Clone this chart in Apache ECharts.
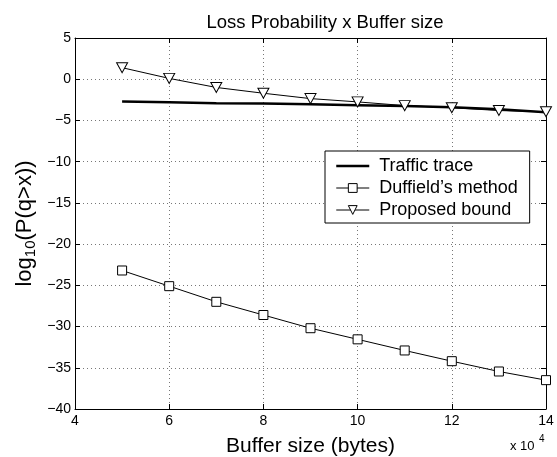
<!DOCTYPE html>
<html>
<head>
<meta charset="utf-8">
<script src="https://cdn.jsdelivr.net/npm/echarts@6/dist/echarts.min.js"></script>
<style>
  html, body { margin: 0; padding: 0; background: #fff; }
  #chart { width: 557px; height: 457px; }
</style>
</head>
<body>
<div id="chart"></div>
<script>
// Buffer size in units of 10^4 bytes
const bufferSize = [5, 6, 7, 8, 9, 10, 11, 12, 13, 14];
// log10 of the loss probability for each method
const traffic = [-2.7, -2.8, -2.9, -2.95, -3.05, -3.15, -3.25, -3.4, -3.65, -4.0];
const duffield = [-23.2, -25.1, -27.0, -28.6, -30.2, -31.55, -32.9, -34.2, -35.45, -36.5];
const proposed = [1.4, 0.1, -1.0, -1.7, -2.35, -2.75, -3.2, -3.45, -3.8, -3.95];

const xTicks = [4, 6, 8, 10, 12, 14];
const yTicks = [5, 0, -5, -10, -15, -20, -25, -30, -35, -40];

const FONT = 'Liberation Sans, Arial, sans-serif';
const pair = arr => bufferSize.map((x, i) => [x, arr[i]]);
const triDown = 'path://M0,0 L10,0 L5,9 Z';

const chart = echarts.init(document.getElementById('chart'), null, { renderer: 'canvas' });

const gridLine = { show: true, lineStyle: { color: '#777', type: [1, 3], width: 1 } };
const axisLine = { show: true, onZero: false, lineStyle: { color: '#000', width: 1 } };
const tick = { show: true, inside: true, length: 5, lineStyle: { color: '#000' } };

chart.setOption({
  animation: false,
  backgroundColor: '#fff',
  title: {
    text: 'Loss Probability x Buffer size',
    left: 320, top: 8, textAlign: 'center',
    textStyle: { fontFamily: FONT, fontSize: 18.5, fontWeight: 'normal', color: '#000' }
  },
  grid: { left: 75, right: 11, top: 38, bottom: 48, containLabel: false, outerBoundsMode: 'none' },
  legend: {
    left: 325, top: 151, width: 212,
    orient: 'vertical',
    backgroundColor: '#fff',
    borderColor: '#000', borderWidth: 1, borderRadius: 0,
    padding: [6, 12, 4, 10],
    itemGap: 4, itemWidth: 33, itemHeight: 11,
    textStyle: { fontFamily: FONT, fontSize: 18, color: '#000', padding: [0, 0, 0, 5] },
    data: [
      { name: 'Traffic trace', itemStyle: { opacity: 0 }, lineStyle: { width: 2.5 } },
      { name: 'Duffield’s method', lineStyle: { width: 1 }, itemStyle: { borderWidth: 1 } },
      { name: 'Proposed bound', lineStyle: { width: 1 }, itemStyle: { borderWidth: 1 } }
    ]
  },
  xAxis: [{
    type: 'value', min: 4, max: 14, interval: 2,
    name: 'Buffer size (bytes)', nameLocation: 'middle', nameGap: 27,
    nameTextStyle: { fontFamily: FONT, fontSize: 21, color: '#000' },
    axisLine: axisLine, axisTick: tick,
    axisLabel: { fontFamily: FONT, fontSize: 14, color: '#000', margin: 5,
      customValues: xTicks },
    splitLine: gridLine
  }, {
    type: 'value', position: 'top', min: 4, max: 14, interval: 2,
    axisLine: axisLine, axisTick: tick,
    axisLabel: { show: false }, splitLine: { show: false }
  }],
  yAxis: [{
    type: 'value', min: -40, max: 5, interval: 5,
    name: 'log{sub|10}(P(q>x))', nameLocation: 'middle', nameGap: 37,
    nameMoveOverlap: false,
    nameTextStyle: { fontFamily: FONT, fontSize: 22, color: '#000',
      rich: { sub: { fontFamily: FONT, fontSize: 15, color: '#000', verticalAlign: 'bottom', padding: [11, 0, 0, 0] } } },
    axisLine: axisLine, axisTick: tick,
    axisLabel: { fontFamily: FONT, fontSize: 14, color: '#000', margin: 4,
      customValues: yTicks,
      formatter: v => (v < 0 ? '\u2212' + Math.abs(v) : String(v)) },
    splitLine: gridLine
  }, {
    type: 'value', position: 'right', min: -40, max: 5, interval: 5,
    axisLine: axisLine, axisTick: tick,
    axisLabel: { show: false }, splitLine: { show: false }
  }],
  graphic: [{
    type: 'text', left: 510, top: 440,
    style: { text: 'x 10', font: '13px ' + FONT, fill: '#000' }
  }, {
    type: 'text', left: 539, top: 434,
    style: { text: '4', font: '10px ' + FONT, fill: '#000' }
  }],
  series: [{
    name: 'Traffic trace', type: 'line', data: pair(traffic),
    symbol: 'none', smooth: false,
    lineStyle: { color: '#000', width: 2.5 },
    itemStyle: { color: '#000' }
  }, {
    name: 'Duffield’s method', type: 'line', data: pair(duffield),
    symbol: 'rect', symbolSize: 9,
    lineStyle: { color: '#000', width: 1 },
    itemStyle: { color: '#fff', borderColor: '#000', borderWidth: 1 }
  }, {
    name: 'Proposed bound', type: 'line', data: pair(proposed),
    symbol: triDown, symbolSize: [11, 10],
    lineStyle: { color: '#000', width: 1 },
    itemStyle: { color: '#fff', borderColor: '#000', borderWidth: 1 }
  }]
});
</script>
</body>
</html>
